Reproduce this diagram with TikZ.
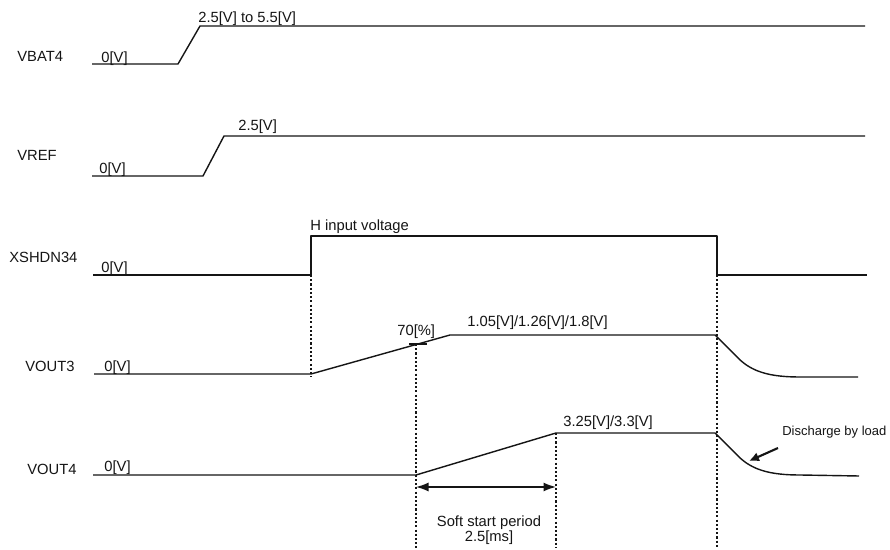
\documentclass[tikz,border=0pt]{standalone}
\usepackage{fontspec}
\setmainfont{Liberation Sans}
\usetikzlibrary{arrows.meta}
\definecolor{trazo}{HTML}{151515}

\begin{document}
\begin{tikzpicture}[x=0.02cm,y=-0.02cm,
  font=\fontsize{8.4}{8.6}\selectfont,
  senal/.style={draw=trazo,line width=0.8pt,line join=round},
  nombre/.style={anchor=west,inner sep=0pt,text=trazo},
  nivel/.style={anchor=west,inner sep=0pt,text=trazo},
  guia/.style={draw=trazo,line width=0.6pt,dash pattern=on 1.2pt off 1.2pt},
  flecha/.style={{Latex[length=2.5mm,width=1.8mm]}-{Latex[length=2.5mm,width=1.8mm]},line width=0.8pt,trazo},
  aviso/.style={-{Latex[length=2mm,width=1.9mm]},line width=1.2pt,trazo}]
\useasboundingbox[fill=white] (0,0) rectangle (890,550);
\node[nombre] (vbat) at (17,56) {VBAT4};
\node[nombre] (vref) at (17,155) {VREF};
\node[nombre] (xshdn) at (9,257) {XSHDN34};
\node[nombre] (vout3) at (25,366) {VOUT3};
\node[nombre] (vout4) at (27,469) {VOUT4};
\node[nivel] (bat0) at (101,59) {0[V]};
\node[nivel] (bat1) at (198,19) {2.5[V] to 5.5[V]};
\node[nivel] (ref0) at (99,170) {0[V]};
\node[nivel] (ref1) at (238,127) {2.5[V]};
\node[nivel] (xs0) at (101,269) {0[V]};
\node[nivel] (xs1) at (310,227) {H input voltage};
\node[nivel] (o30) at (104,368) {0[V]};
\node[nivel] (o3p) at (397,332) {70[\%]};
\node[nivel] (o31) at (467,323) {1.05[V]/1.26[V]/1.8[V]};
\node[nivel] (o40) at (104,468) {0[V]};
\node[nivel] (o41) at (563,423) {3.25[V]/3.3[V]};
\node[align=center,inner sep=0pt,text=trazo] (soft) at (489,530) {Soft start period\\2.5[ms]};
\node[nivel,font=\fontsize{7.4}{8}\selectfont] (desc) at (782,432) {Discharge by load};
\coordinate (on) at (311,275);
\coordinate (p70) at (416,344);
\coordinate (fin4) at (556,433);
\coordinate (off) at (717,275);
\coordinate (ini4) at (416,487);
\coordinate (tope4) at (556,487);
\coordinate (cola) at (778,448);
\coordinate (punta) at (749,461);
\draw[senal] (92,64) -- (178,64) -- (200,26) -- (865,26);
\draw[senal] (92,176) -- (203,176) -- (224,136) -- (865,136);
\draw[senal] (93,275) -- (311,275) -- (311,236) -- (717,236) -- (717,275) -- (867,275);
\draw[senal] (94,374) -- (311,374) -- (450,335) -- (715,335) -- (738,358) .. controls (752,372) and (770,377) .. (800,377) -- (858,377);
\draw[senal,line width=0.6pt] (409,344) -- (427,344);
\draw[senal] (93,475) -- (416,475) -- (556,433) -- (715,433) -- (738,456) .. controls (752,470) and (770,475) .. (800,475) -- (859,476);
\draw[guia] (on) -- (311,377);
\draw[guia] (p70) -- (416,548);
\draw[guia] (fin4) -- (556,548);
\draw[guia] (off) -- (717,548);
\draw[flecha] (ini4) -- (tope4);
\draw[aviso] (cola) -- (punta);
\end{tikzpicture}
\end{document}
